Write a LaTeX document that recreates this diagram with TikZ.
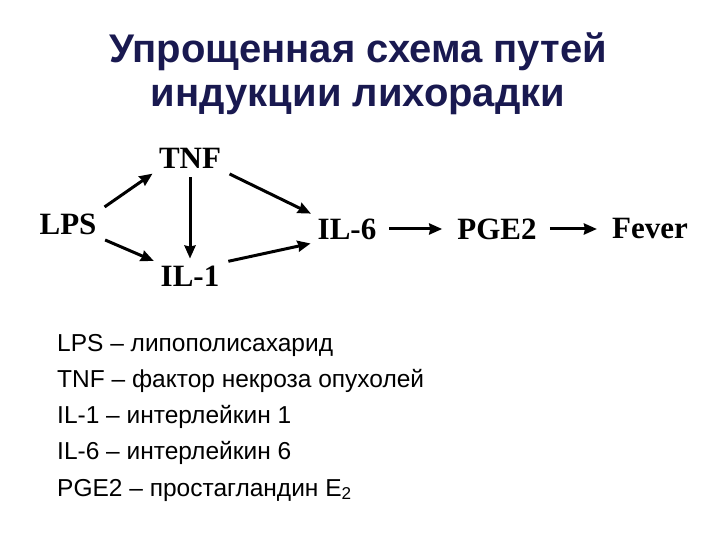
\documentclass[tikz,border=0pt]{standalone}
\usepackage{fontspec}
\setmainfont{Liberation Serif}
\newfontfamily\lsans{Liberation Sans}
\usetikzlibrary{arrows.meta}
\definecolor{navy}{RGB}{25,25,80}
\begin{document}
\begin{tikzpicture}[x=1pt,y=1pt,
  term/.style={font=\bfseries\fontsize{31}{34}\selectfont, inner sep=3pt},
  arr/.style={-{Stealth[length=13pt,width=11pt,inset=1pt]}, line width=3pt, shorten <=6pt, shorten >=4pt},
  leg/.style={font=\lsans\fontsize{24.5}{28}\selectfont, anchor=west, inner sep=0pt},
  ttl/.style={font=\lsans\bfseries\fontsize{40}{46}\selectfont, text=navy}]
\useasboundingbox (0,0) rectangle (720,-540);
\node[ttl] (t1) at (358,-52) {Упрощенная схема путей};
\node[ttl] (t2) at (358,-100) {индукции лихорадки};
\node[term] (lps) at (68,-224) {LPS};
\node[term] (tnf) at (190,-158) {TNF};
\node[term] (il1) at (190,-276) {IL-1};
\node[term] (il6) at (347,-229) {IL-6};
\node[term] (pge) at (497,-229) {PGE2};
\node[term] (fev) at (650,-229) {Fever};
\draw[arr] (lps.north east) -- (tnf.south west);
\draw[arr] (lps.south east) -- (il1.north west);
\draw[arr] (tnf.south) -- (il1.north);
\draw[arr] (tnf.south east) -- (il6.north west);
\draw[arr] (il1.north east) -- (il6.south west);
\draw[arr, shorten <=10pt, shorten >=12pt] (il6) -- (pge);
\draw[arr, shorten <=10pt, shorten >=12pt] (pge) -- (fev);
\node[leg] (l1) at (57,-345) {LPS – липополисахарид};
\node[leg] (l2) at (57,-381) {TNF – фактор некроза опухолей};
\node[leg] (l3) at (57,-417) {IL-1 – интерлейкин 1};
\node[leg] (l4) at (57,-453) {IL-6 – интерлейкин 6};
\node[leg] (l5) at (57,-490) {PGE2 – простагландин E\textsubscript{2}};
\end{tikzpicture}
\end{document}
